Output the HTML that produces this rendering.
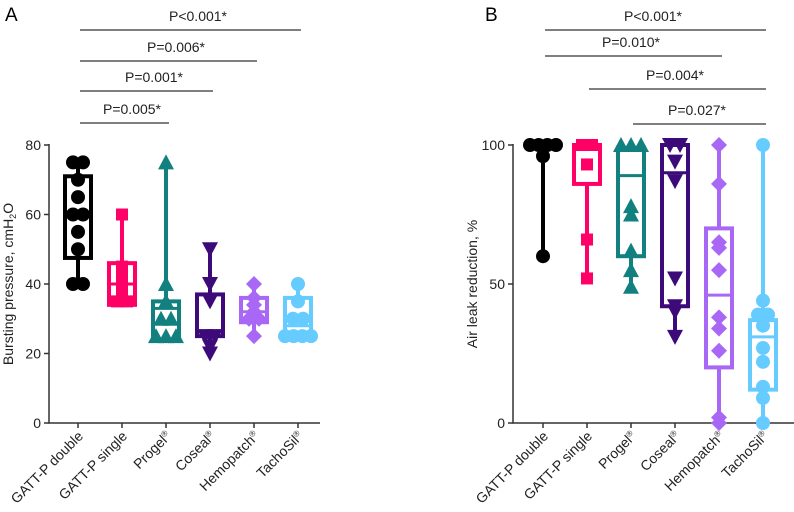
<!DOCTYPE html>
<html><head><meta charset="utf-8"><style>
html,body{margin:0;padding:0;background:#fff}
svg{display:block;font-family:"Liberation Sans",Arial,sans-serif}
</style></head><body>
<svg id="c" width="794" height="512" viewBox="0 0 794 512"></svg>
<script>
const categories=["GATT-P double","GATT-P single","Progel®","Coseal®","Hemopatch®","TachoSil®"];
const colors=["#000000","#ff0066","#138080","#3d0a7a","#a868f5","#66ccff"];
const shapes=["circle","square","triangle","down","diamond","circle"];
// Panel A: bursting pressure
const aBoxLow=[47.5,34,24,25,29,25];
const aBoxHigh=[71,46,35,37,36,36];
const aMedian=[60,40,33,26.5,32,28];
const aWhiskLow=[40,34,24,20,25,25];
const aWhiskHigh=[75,60,75,50,40,40];
const aPoints=[[75,75,70,65,60,60,55,50,40,40],[60,45,42,40,38,35,35],[75,40,35,30,30,25,25,25],[50,40,35,25,25,22,20],[40,36,34,32,30,30,25],[40,35,30,30,25,25,25,25]];
const aTicks=[0,20,40,60,80];
const aSig=[["P=0.005*",0,2],["P=0.001*",0,3],["P=0.006*",0,4],["P<0.001*",0,5]];
// Panel B: air leak reduction
const bBoxLow=[100,86,60,42,20,12];
const bBoxHigh=[100,100,99,100,70,37];
const bMedian=[100,100,89,90,46,31];
const bWhiskLow=[60,52,48,31,0,0];
const bWhiskHigh=[100,100,100,100,100,100];
const bPoints=[[100,100,100,100,96,60],[100,100,93,66,52],[100,100,100,78,75,62,55,49],[100,100,94,87,52,42,40,31],[100,86,65,63,55,38,34,26,2,0],[100,44,39,39,35,27,22,13,9,0]];
const bTicks=[0,50,100];
const bSig=[["P<0.001*",0,5],["P=0.010*",0,4],["P=0.004*",1,5],["P=0.027*",2,5]];

const NS="http://www.w3.org/2000/svg";
const svg=document.getElementById('c');
function el(t,a,p){const e=document.createElementNS(NS,t);for(const k in a)e.setAttribute(k,a[k]);(p||svg).appendChild(e);return e;}
function marker(g,shape,x,y,c){
 let e;const r=7;
 if(shape==="circle")e=el('circle',{cx:x,cy:y,r:r,fill:c},g);
 else if(shape==="square")e=el('rect',{x:x-r+1,y:y-r+1,width:2*r-2,height:2*r-2,fill:c},g);
 else if(shape==="triangle")e=el('polygon',{points:`${x},${y-r-1} ${x-r-1},${y+r} ${x+r+1},${y+r}`,fill:c},g);
 else if(shape==="down")e=el('polygon',{points:`${x},${y+r+1} ${x-r-1},${y-r} ${x+r+1},${y-r}`,fill:c},g);
 else e=el('polygon',{points:`${x},${y-r-1} ${x+r+1},${y} ${x},${y+r+1} ${x-r-1},${y}`,fill:c},g);
 
 
}
function panel(o){
 const g=el('g',{});
 
 
 const y=v=>o.y0-(v-o.min)/(o.max-o.min)*(o.y0-o.y1);
 const x=i=>o.xs+i*o.step;
 const lab=el('text',{x:o.labX,y:21,'font-size':19,fill:'#000'},g);lab.textContent=o.letter;
 
 const ax=el('path',{d:`M${o.ax},${o.y1-1}V${o.y0}H${o.axEnd}`,stroke:'#333',fill:'none','stroke-width':1.5},g);
 
 o.ticks.forEach(t=>{el('line',{x1:o.ax-5,x2:o.ax,y1:y(t),y2:y(t),stroke:'#333','stroke-width':1.5},g);
  const tx=el('text',{x:o.ax-8,y:y(t)+5,'font-size':14,'text-anchor':'end',fill:'#222'},g);tx.textContent=t;
  });
 const yt=el('text',{transform:`translate(${o.ax-36},${(o.y0+o.y1)/2}) rotate(-90)`,'font-size':14,'text-anchor':'middle',fill:'#222'},g);
 yt.innerHTML=o.ytitle;
 
 categories.forEach((c,i)=>{
  el('line',{x1:x(i),x2:x(i),y1:o.y0,y2:o.y0+5,stroke:'#333','stroke-width':1.5},g);
  const t=el('text',{transform:`translate(${x(i)+6},${o.y0+14}) rotate(-45)`,'font-size':14,'text-anchor':'end',fill:'#222'},g);
  t.innerHTML=c.replace('®','<tspan font-size="8" dy="-5">®</tspan>');
  
  const col=colors[i],hw=13;
  const bg=el('g',{},g);
  
  el('line',{x1:x(i),x2:x(i),y1:y(o.wl[i]),y2:y(o.wh[i]),stroke:col,'stroke-width':4},bg);
  el('rect',{x:x(i)-hw,y:y(o.bh[i]),width:2*hw,height:Math.max(0.1,y(o.bl[i])-y(o.bh[i])),fill:'#fff',stroke:col,'stroke-width':4},bg);
  el('line',{x1:x(i)-hw,x2:x(i)+hw,y1:y(o.md[i]),y2:y(o.md[i]),stroke:col,'stroke-width':3},bg);
  const pts=o.pts[i];
  pts.forEach((v,j)=>{const dup=pts.filter(w=>w===v).length;const k=pts.slice(0,j).filter(w=>w===v).length;
   const dx=dup>1?(k-(dup-1)/2)*Math.min(10,26/(dup-1)):0;marker(bg,shapes[i],x(i)+dx,y(v),col);});
 });
 o.sig.forEach((s,k)=>{const ly=o.sigY[k];
  el('line',{x1:x(s[1])+2,x2:x(s[2])+3,y1:ly,y2:ly,stroke:'#333','stroke-width':1.2},g);
  const t=el('text',{x:(x(s[1])+x(s[2]))/2+(o.letter==="A"?10:0),y:ly-9,'font-size':14,'text-anchor':'middle',fill:'#222'},g);
  t.textContent=s[0];});
}
panel({name:'panel-a',letter:'A',labX:5,ax:49,axEnd:320,y0:423,y1:145,min:0,max:80,xs:78,step:44,ticks:aTicks,
 ytitle:'Bursting pressure, cmH<tspan font-size="9" dy="3">2</tspan><tspan dy="-3">O</tspan>',
 bl:aBoxLow,bh:aBoxHigh,md:aMedian,wl:aWhiskLow,wh:aWhiskHigh,pts:aPoints,sig:aSig,sigY:[123,91,61,30]});
panel({name:'panel-b',letter:'B',labX:485,ax:513,axEnd:794,y0:423,y1:145,min:0,max:100,xs:543,step:44,ticks:bTicks,
 ytitle:'Air leak reduction, %',
 bl:bBoxLow,bh:bBoxHigh,md:bMedian,wl:bWhiskLow,wh:bWhiskHigh,pts:bPoints,sig:bSig,sigY:[30,56,89,124]});
</script>
</body></html>
